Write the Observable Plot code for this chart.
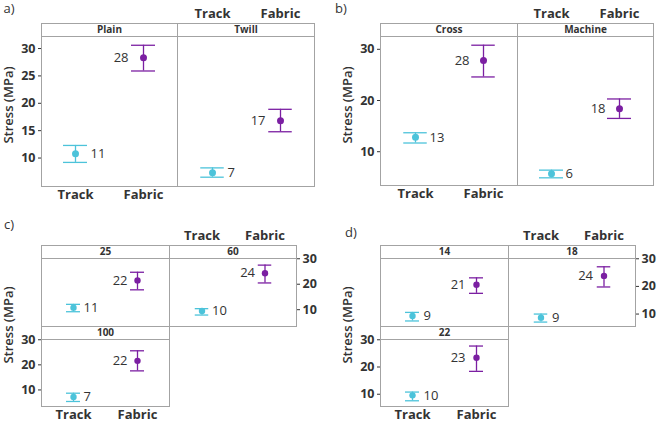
<!DOCTYPE html>
<html>
<head>
<meta charset="utf-8">
<script src="https://cdn.jsdelivr.net/npm/d3@7"></script>
<script src="https://cdn.jsdelivr.net/npm/@observablehq/plot@0.6"></script>
<style>
  html, body { margin: 0; padding: 0; background: white; }
  #root { position: relative; width: 658px; height: 422px; overflow: hidden; font-family: "Open Sans", sans-serif; color: #333; }
  .lbl { position: absolute; white-space: nowrap; line-height: 1; }
</style>
</head>
<body>
<div id="root"></div>
<script>
// ---------- data ----------
const categories = ["Track", "Fabric"];
const seriesColors = ["#4cc3da", "#7b1fa2"];

// panel a
const aFacets = ["Plain", "Twill"];
const aTrackMean = [10.8, 7.3];
const aTrackLow = [9.2, 6.5];
const aTrackHigh = [12.3, 8.2];
const aTrackLabel = ["11", "7"];
const aFabricMean = [28.3, 16.8];
const aFabricLow = [25.9, 14.8];
const aFabricHigh = [30.6, 18.9];
const aFabricLabel = ["28", "17"];
const aTicks = [10, 15, 20, 25, 30];

// panel b
const bFacets = ["Cross", "Machine"];
const bTrackMean = [12.8, 5.7];
const bTrackLow = [11.7, 4.9];
const bTrackHigh = [13.7, 6.4];
const bTrackLabel = ["13", "6"];
const bFabricMean = [27.8, 18.4];
const bFabricLow = [24.6, 16.5];
const bFabricHigh = [30.8, 20.3];
const bFabricLabel = ["28", "18"];
const bTicks = [10, 20, 30];

// panel c
const cFacets = ["25", "60", "100"];
const cTrackMean = [10.8, 9.5, 7.2];
const cTrackLow = [9.2, 7.9, 5.4];
const cTrackHigh = [12.1, 10.4, 8.7];
const cTrackLabel = ["11", "10", "7"];
const cFabricMean = [21.5, 24.3, 21.6];
const cFabricLow = [17.8, 20.5, 17.6];
const cFabricHigh = [24.7, 27.5, 25.6];
const cFabricLabel = ["22", "24", "22"];
const cTicks = [10, 20, 30];

// panel d
const dFacets = ["14", "18", "22"];
const dTrackMean = [9.3, 8.7, 9.6];
const dTrackLow = [7.5, 7.1, 7.6];
const dTrackHigh = [10.6, 10.0, 10.8];
const dTrackLabel = ["9", "9", "10"];
const dFabricMean = [20.6, 23.8, 23.4];
const dFabricLow = [17.5, 19.8, 18.4];
const dFabricHigh = [23.1, 27.1, 27.7];
const dFabricLabel = ["21", "24", "23"];
const dTicks = [10, 20, 30];

const yTitle = "Stress (MPa)";
const panelLetters = ["a)", "b)", "c)", "d)"];

// ---------- helpers ----------
function rowsFor(i, tm, tl, th, tlab, fm, fl, fh, flab) {
  return [
    {cat: categories[0], m: tm[i], lo: tl[i], hi: th[i], label: tlab[i]},
    {cat: categories[1], m: fm[i], lo: fl[i], hi: fh[i], label: flab[i]}
  ];
}

const root = document.getElementById("root");
const frameColor = "#a3a3a3";

function makeCell(cfg) {
  const {name, left, right, stripTop, stripBottom, bottom, domain, ticks, rows, axes, capW, r, dx} = cfg;
  const mL = 40, mR = 40, mB = 26;
  const stripH = stripBottom - stripTop;
  const mT = stripH + 26;
  const innerW = right - left, innerH = bottom - stripBottom;
  const bandW = innerW / 2;
  const inset = (bandW - capW) / 2;
  const marks = [
    Plot.frame({stroke: frameColor, fill: "white"}),
    Plot.frame({stroke: frameColor, fill: "white", insetTop: -stripH, insetBottom: innerH}),
    Plot.text([name], {frameAnchor: "top", lineAnchor: "middle", dy: -stripH / 2, text: d => d, fontSize: 10, fontWeight: "bold", fill: "#333"}),
    Plot.ruleX(rows, {x: "cat", y1: "lo", y2: "hi", stroke: "cat", strokeWidth: 1.3}),
    Plot.tickY(rows, {x: "cat", y: "lo", stroke: "cat", inset, strokeWidth: 1.3}),
    Plot.tickY(rows, {x: "cat", y: "hi", stroke: "cat", inset, strokeWidth: 1.3}),
    Plot.dot(rows, {x: "cat", y: "m", fill: "cat", r, stroke: null}),
    Plot.text(rows.filter(d => d.cat === categories[0]), {x: "cat", y: "m", text: "label", textAnchor: "start", dx: dx, fontSize: 13, fill: "#333"}),
    Plot.text(rows.filter(d => d.cat === categories[1]), {x: "cat", y: "m", text: "label", textAnchor: "end", dx: -dx, fontSize: 13, fill: "#333"})
  ];
  const yAx = {ticks, tickSize: 3, tickPadding: 3, fontSize: 12.5, fontWeight: "bold", label: null, color: "#333"};
  const xAx = {tickSize: 0, fontSize: 13, fontWeight: "bold", label: null, color: "#333"};
  if (axes.includes("left")) marks.push(Plot.axisY({...yAx, anchor: "left"}));
  if (axes.includes("right")) marks.push(Plot.axisY({...yAx, anchor: "right"}));
  if (axes.includes("bottom")) marks.push(Plot.axisX({...xAx, anchor: "bottom", tickPadding: 3}));
  if (axes.includes("top")) marks.push(Plot.axisX({...xAx, anchor: "top", tickPadding: stripH + 6}));
  const svg = Plot.plot({
    width: innerW + mL + mR,
    height: innerH + mT + mB,
    marginLeft: mL, marginRight: mR, marginTop: mT, marginBottom: mB,
    x: {type: "band", domain: categories, padding: 0, axis: null},
    y: {domain, axis: null},
    color: {domain: categories, range: seriesColors},
    style: {fontFamily: "Open Sans, sans-serif", background: "transparent", overflow: "visible", color: "#333"},
    marks
  });
  svg.style.position = "absolute";
  svg.style.left = (left - mL) + "px";
  svg.style.top = (stripBottom - mT) + "px";
  svg.style.maxWidth = "none";
  root.appendChild(svg);
}

function addText(txt, x, y, css, rotate) {
  const el = document.createElement("div");
  el.className = "lbl";
  el.textContent = txt;
  el.style.left = x + "px";
  el.style.top = y + "px";
  el.style.transform = "translate(-50%, -50%)" + (rotate ? " rotate(-90deg)" : "");
  Object.assign(el.style, css);
  root.appendChild(el);
}

// ---------- panel a ----------
const aDomain = [4.8, 32.2];
makeCell({name: aFacets[0], left: 41, right: 177, stripTop: 23, stripBottom: 36, bottom: 186, domain: aDomain, ticks: aTicks,
  rows: rowsFor(0, aTrackMean, aTrackLow, aTrackHigh, aTrackLabel, aFabricMean, aFabricLow, aFabricHigh, aFabricLabel),
  axes: ["left", "bottom"], capW: 24, r: 3.5, dx: 15});
makeCell({name: aFacets[1], left: 177, right: 314, stripTop: 23, stripBottom: 36, bottom: 186, domain: aDomain, ticks: aTicks,
  rows: rowsFor(1, aTrackMean, aTrackLow, aTrackHigh, aTrackLabel, aFabricMean, aFabricLow, aFabricHigh, aFabricLabel),
  axes: ["top"], capW: 24, r: 3.5, dx: 15});

// ---------- panel b ----------
const bDomain = [3.4, 32.5];
makeCell({name: bFacets[0], left: 380, right: 517, stripTop: 23, stripBottom: 36, bottom: 185, domain: bDomain, ticks: bTicks,
  rows: rowsFor(0, bTrackMean, bTrackLow, bTrackHigh, bTrackLabel, bFabricMean, bFabricLow, bFabricHigh, bFabricLabel),
  axes: ["left", "bottom"], capW: 24, r: 3.5, dx: 14});
makeCell({name: bFacets[1], left: 517, right: 653, stripTop: 23, stripBottom: 36, bottom: 185, domain: bDomain, ticks: bTicks,
  rows: rowsFor(1, bTrackMean, bTrackLow, bTrackHigh, bTrackLabel, bFabricMean, bFabricLow, bFabricHigh, bFabricLabel),
  axes: ["top"], capW: 24, r: 3.5, dx: 14});

// ---------- panel c ----------
const cDomain = [3.4, 30.1];
makeCell({name: cFacets[0], left: 41, right: 169, stripTop: 245, stripBottom: 258, bottom: 326, domain: cDomain, ticks: cTicks,
  rows: rowsFor(0, cTrackMean, cTrackLow, cTrackHigh, cTrackLabel, cFabricMean, cFabricLow, cFabricHigh, cFabricLabel),
  axes: [], capW: 14, r: 3.2, dx: 10});
makeCell({name: cFacets[1], left: 169, right: 296, stripTop: 245, stripBottom: 258, bottom: 326, domain: cDomain, ticks: cTicks,
  rows: rowsFor(1, cTrackMean, cTrackLow, cTrackHigh, cTrackLabel, cFabricMean, cFabricLow, cFabricHigh, cFabricLabel),
  axes: ["top", "right"], capW: 14, r: 3.2, dx: 10});
makeCell({name: cFacets[2], left: 41, right: 169, stripTop: 326, stripBottom: 339, bottom: 406, domain: cDomain, ticks: cTicks,
  rows: rowsFor(2, cTrackMean, cTrackLow, cTrackHigh, cTrackLabel, cFabricMean, cFabricLow, cFabricHigh, cFabricLabel),
  axes: ["left", "bottom"], capW: 14, r: 3.2, dx: 10});

// ---------- panel d ----------
const dDomain = [5.5, 30.1];
makeCell({name: dFacets[0], left: 380, right: 508, stripTop: 245, stripBottom: 258, bottom: 326, domain: dDomain, ticks: dTicks,
  rows: rowsFor(0, dTrackMean, dTrackLow, dTrackHigh, dTrackLabel, dFabricMean, dFabricLow, dFabricHigh, dFabricLabel),
  axes: [], capW: 14, r: 3.2, dx: 11});
makeCell({name: dFacets[1], left: 508, right: 635, stripTop: 245, stripBottom: 258, bottom: 326, domain: dDomain, ticks: dTicks,
  rows: rowsFor(1, dTrackMean, dTrackLow, dTrackHigh, dTrackLabel, dFabricMean, dFabricLow, dFabricHigh, dFabricLabel),
  axes: ["top", "right"], capW: 14, r: 3.2, dx: 11});
makeCell({name: dFacets[2], left: 380, right: 508, stripTop: 326, stripBottom: 339, bottom: 406, domain: dDomain, ticks: dTicks,
  rows: rowsFor(2, dTrackMean, dTrackLow, dTrackHigh, dTrackLabel, dFabricMean, dFabricLow, dFabricHigh, dFabricLabel),
  axes: ["left", "bottom"], capW: 14, r: 3.2, dx: 11});

// ---------- titles ----------
const titleCss = {fontSize: "13px", fontWeight: "600", color: "#333"};
addText(yTitle, 8, 105, titleCss, true);
addText(yTitle, 347, 105, titleCss, true);
addText(yTitle, 8, 325, titleCss, true);
addText(yTitle, 347, 325, titleCss, true);
addText(panelLetters[0], 9, 8, {fontSize: "13px", color: "#333"});
addText(panelLetters[1], 341, 8, {fontSize: "13px", color: "#333"});
addText(panelLetters[2], 9, 224, {fontSize: "13px", color: "#333"});
addText(panelLetters[3], 351, 232, {fontSize: "13px", color: "#333"});
</script>
</body>
</html>
